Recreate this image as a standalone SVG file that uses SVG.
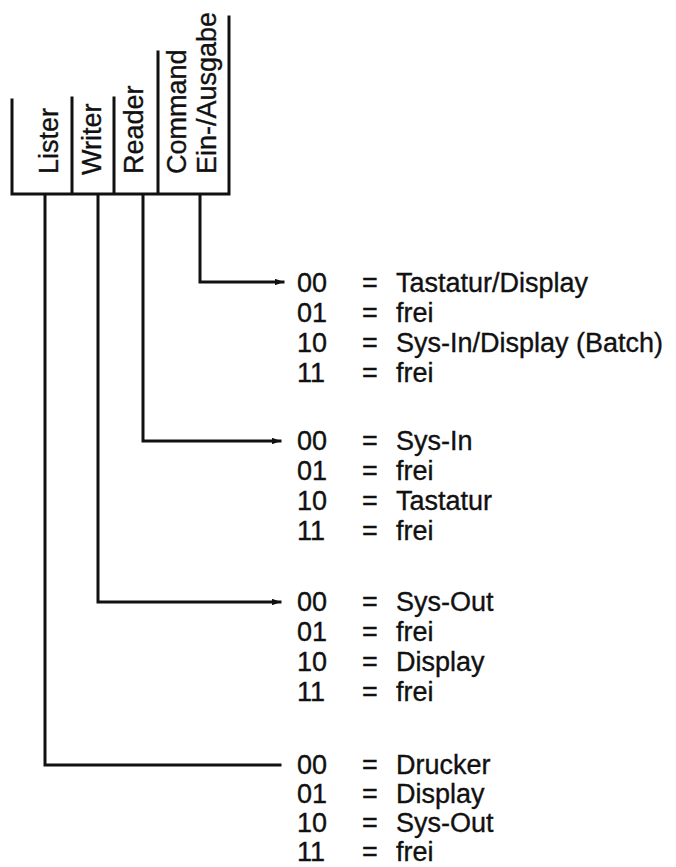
<svg xmlns="http://www.w3.org/2000/svg" width="676" height="867" viewBox="0 0 676 867">
<defs>
<style>
.t{font-family:"Liberation Sans",Arial,sans-serif;font-size:27px;fill:#111;stroke:#111;stroke-width:0.35}
.ln{stroke:#111;stroke-width:3;fill:none;stroke-linecap:square;stroke-linejoin:miter}
</style>
<marker id="ah" viewBox="0 0 10 10" refX="9" refY="5" markerWidth="3" markerHeight="2.2" orient="auto" markerUnits="strokeWidth" preserveAspectRatio="none">
<path d="M0,0 L10,5 L0,10 z" fill="#111"/>
</marker>
</defs>
<rect width="676" height="867" fill="#fff"/>
<g id="header">
<path class="ln" d="M12,100 V194 H229 M72,98 V194 M114,98 V194 M158,52 V194 M229,17 V194"/>
<text class="t" transform="translate(58,174) rotate(-90)">Lister</text>
<text class="t" transform="translate(101,175) rotate(-90)">Writer</text>
<text class="t" transform="translate(143,174) rotate(-90)">Reader</text>
<text class="t" transform="translate(186,174) rotate(-90)">Command</text>
<text class="t" transform="translate(216,174) rotate(-90)">Ein-/Ausgabe</text>
</g>
<g id="connectors">
<path class="ln" d="M200,195 V282 H283" marker-end="url(#ah)"/>
<path class="ln" d="M143,195 V441 H280" marker-end="url(#ah)"/>
<path class="ln" d="M98,195 V602 H280" marker-end="url(#ah)"/>
<path class="ln" d="M45,195 V765 H280"/>
</g>
<g id="ein-ausgabe">
<text class="t" x="297" y="292">00</text><text class="t" x="362" y="292">=</text><text class="t" x="396" y="292">Tastatur/Display</text>
<text class="t" x="297" y="322">01</text><text class="t" x="362" y="322">=</text><text class="t" x="396" y="322">frei</text>
<text class="t" x="297" y="352">10</text><text class="t" x="362" y="352">=</text><text class="t" x="396" y="352">Sys-In/Display (Batch)</text>
<text class="t" x="297" y="382">11</text><text class="t" x="362" y="382">=</text><text class="t" x="396" y="382">frei</text>
</g>
<g id="reader">
<text class="t" x="297" y="450">00</text><text class="t" x="362" y="450">=</text><text class="t" x="396" y="450">Sys-In</text>
<text class="t" x="297" y="480">01</text><text class="t" x="362" y="480">=</text><text class="t" x="396" y="480">frei</text>
<text class="t" x="297" y="510">10</text><text class="t" x="362" y="510">=</text><text class="t" x="396" y="510">Tastatur</text>
<text class="t" x="297" y="540">11</text><text class="t" x="362" y="540">=</text><text class="t" x="396" y="540">frei</text>
</g>
<g id="writer">
<text class="t" x="297" y="611">00</text><text class="t" x="362" y="611">=</text><text class="t" x="396" y="611">Sys-Out</text>
<text class="t" x="297" y="641">01</text><text class="t" x="362" y="641">=</text><text class="t" x="396" y="641">frei</text>
<text class="t" x="297" y="671">10</text><text class="t" x="362" y="671">=</text><text class="t" x="396" y="671">Display</text>
<text class="t" x="297" y="701">11</text><text class="t" x="362" y="701">=</text><text class="t" x="396" y="701">frei</text>
</g>
<g id="lister">
<text class="t" x="297" y="774">00</text><text class="t" x="362" y="774">=</text><text class="t" x="396" y="774">Drucker</text>
<text class="t" x="297" y="803">01</text><text class="t" x="362" y="803">=</text><text class="t" x="396" y="803">Display</text>
<text class="t" x="297" y="832">10</text><text class="t" x="362" y="832">=</text><text class="t" x="396" y="832">Sys-Out</text>
<text class="t" x="297" y="861">11</text><text class="t" x="362" y="861">=</text><text class="t" x="396" y="861">frei</text>
</g>
</svg>
